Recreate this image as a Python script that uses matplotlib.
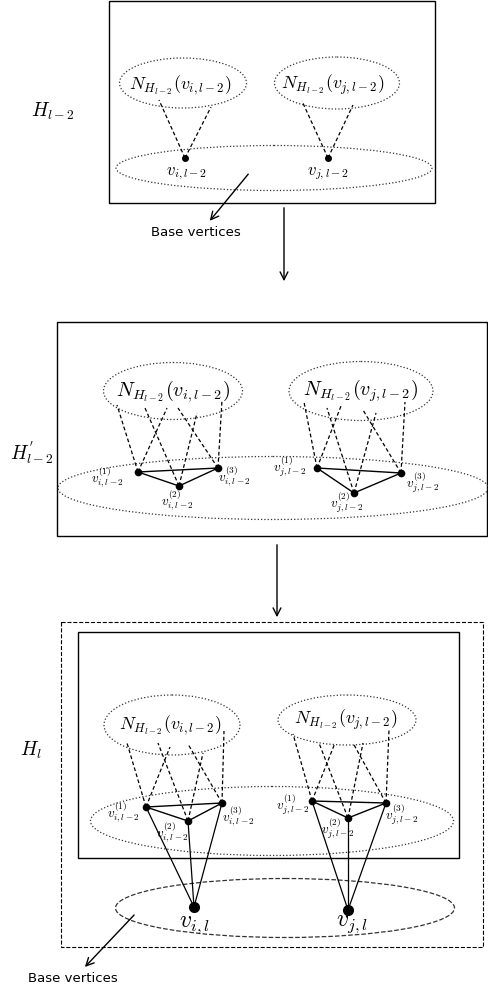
import matplotlib
matplotlib.use("Agg")
import matplotlib.pyplot as plt
from matplotlib.patches import Ellipse, Rectangle

plt.rcParams['mathtext.fontset'] = 'cm'

# ---- layout data (pixel coordinates, y downwards) ----
# panel boxes: x0, y0, x1, y1, style
boxes = [(109, 1, 435, 203, '-'),
         (57, 322, 487, 536, '-'),
         (78, 632, 459, 858, '-'),
         (61, 622, 483, 947, '--')]

# ellipses: cx, cy, w, h, style
ellipses = [(183, 83, 127, 50, ':'), (337, 83, 125, 52, ':'), (274, 168, 316, 45, ':'),
            (173, 391, 139, 57, ':'), (361, 391, 144, 59, ':'), (273, 488, 430, 63, ':'),
            (172, 725, 136, 60, ':'), (347, 720, 138, 50, ':'), (272, 821, 363, 69, ':'),
            (285, 908, 339, 59, '--')]

N_labels = [(180, 85, 'i', 13), (333, 85, 'j', 13),
            (173, 391, 'i', 14.5), (361, 391, 'j', 14.5),
            (170, 725, 'i', 13), (346, 720, 'j', 13)]

# top panel vertices and their dashed links
top_nodes = [(185, 158), (328, 158)]
top_links = [[(159, 100), (211, 107)], [(302, 101), (353, 105)]]
top_labels = [(187, 173, r'$v_{i,l-2}$'), (328, 173, r'$v_{j,l-2}$')]

# middle panel triangles
mid_nodes = [[(138, 472), (179, 486), (218, 468)],
             [(317, 468), (354, 493), (401, 473)]]
mid_links = [[[(117, 405), (167, 408)], [(145, 408), (197, 413)], [(178, 408), (222, 400)]],
             [[(304, 402), (341, 406)], [(327, 408), (376, 413)], [(363, 410), (405, 402)]]]
mid_labels = [[(107, 477, '1', 'i'), (177, 500, '2', 'i'), (234, 476, '3', 'i')],
              [(290, 467, '1', 'j'), (347, 503, '2', 'j'), (423, 483, '3', 'j')]]

# bottom panel triangles
bot_nodes = [[(146, 807), (188, 821), (222, 803)],
             [(312, 801), (348, 818), (386, 803)]]
bot_links = [[[(127, 743), (170, 747)], [(158, 743), (203, 753)], [(188, 744), (224, 731)]],
             [[(293, 734), (335, 743)], [(319, 743), (363, 743)], [(353, 743), (389, 730)]]]
bot_labels = [[(123, 812, '1', 'i'), (172, 832, '2', 'i'), (238, 816, '3', 'i')],
              [(293, 805, '1', 'j'), (338, 829, '2', 'j'), (402, 815, '3', 'j')]]
big_nodes = [(194, 907), (348, 910)]
big_labels = [(194, 924, r'$v_{i,l}$'), (352, 923, r'$v_{j,l}$')]

side_labels = [(53, 111, r'$H_{l-2}$'), (32, 453, r"$H^{'}_{l-2}$"), (31, 750, r'$H_l$')]

fig = plt.figure(figsize=(4.88, 9.89), dpi=100)
ax = fig.add_axes([0, 0, 1, 1])
ax.set_xlim(0, 488)
ax.set_ylim(989, 0)
ax.axis('off')

for x0, y0, x1, y1, ls in boxes:
    ax.add_patch(Rectangle((x0, y0), x1 - x0, y1 - y0, fill=False, ec='black',
                           lw=1.0 if ls == '-' else 0.8, ls=ls))

for cx, cy, w, h, ls in ellipses:
    ax.add_patch(Ellipse((cx, cy), w, h, fill=False, ec='#333333', lw=0.9, ls=ls))

for x, y, s, fs in N_labels:
    ax.text(x, y, r'$N_{H_{l-2}}(v_{%s,l-2})$' % s, fontsize=fs, ha='center', va='center')

dash = dict(color='black', lw=0.9, ls=(0, (3, 2)))

# top panel
for (nx, ny), links in zip(top_nodes, top_links):
    for px, py in links:
        ax.plot([nx, px], [ny, py], **dash)
    ax.plot(nx, ny, 'o', color='black', ms=4)
for x, y, s in top_labels:
    ax.text(x, y, s, fontsize=12, ha='center', va='center')


def triangles(nodes, links, labels, fs):
    for tri, tl, lab in zip(nodes, links, labels):
        for (nx, ny), ends in zip(tri, tl):
            for px, py in ends:
                ax.plot([nx, px], [ny, py], **dash)
        xs = [p[0] for p in tri] + [tri[0][0]]
        ys = [p[1] for p in tri] + [tri[0][1]]
        ax.plot(xs, ys, color='black', lw=1.0)
        for nx, ny in tri:
            ax.plot(nx, ny, 'o', color='black', ms=4.5)
        for x, y, k, s in lab:
            ax.text(x, y, r'$v^{(%s)}_{%s,l-2}$' % (k, s), fontsize=fs, ha='center', va='center')


triangles(mid_nodes, mid_links, mid_labels, 9.5)
triangles(bot_nodes, bot_links, bot_labels, 9.5)

for tri, (bx, by) in zip(bot_nodes, big_nodes):
    for nx, ny in tri:
        ax.plot([nx, bx], [ny, by], color='black', lw=0.9)
    ax.plot(bx, by, 'o', color='black', ms=7)
for x, y, s in big_labels:
    ax.text(x, y, s, fontsize=17, ha='center', va='center')

for x, y, s in side_labels:
    ax.text(x, y, s, fontsize=14, ha='center', va='center')

# arrows
arr = dict(arrowstyle='->', color='black', lw=1.0, mutation_scale=14)
ax.annotate('', xy=(208, 223), xytext=(250, 172), arrowprops=arr)
ax.annotate('', xy=(284, 284), xytext=(284, 205), arrowprops=arr)
ax.annotate('', xy=(277, 620), xytext=(277, 542), arrowprops=arr)
ax.annotate('', xy=(83, 969), xytext=(136, 913), arrowprops=arr)

ax.text(196, 232, 'Base vertices', fontsize=9.5, ha='center', va='center')
ax.text(73, 978, 'Base vertices', fontsize=9.5, ha='center', va='center')

fig.savefig('out.png', dpi=100)
